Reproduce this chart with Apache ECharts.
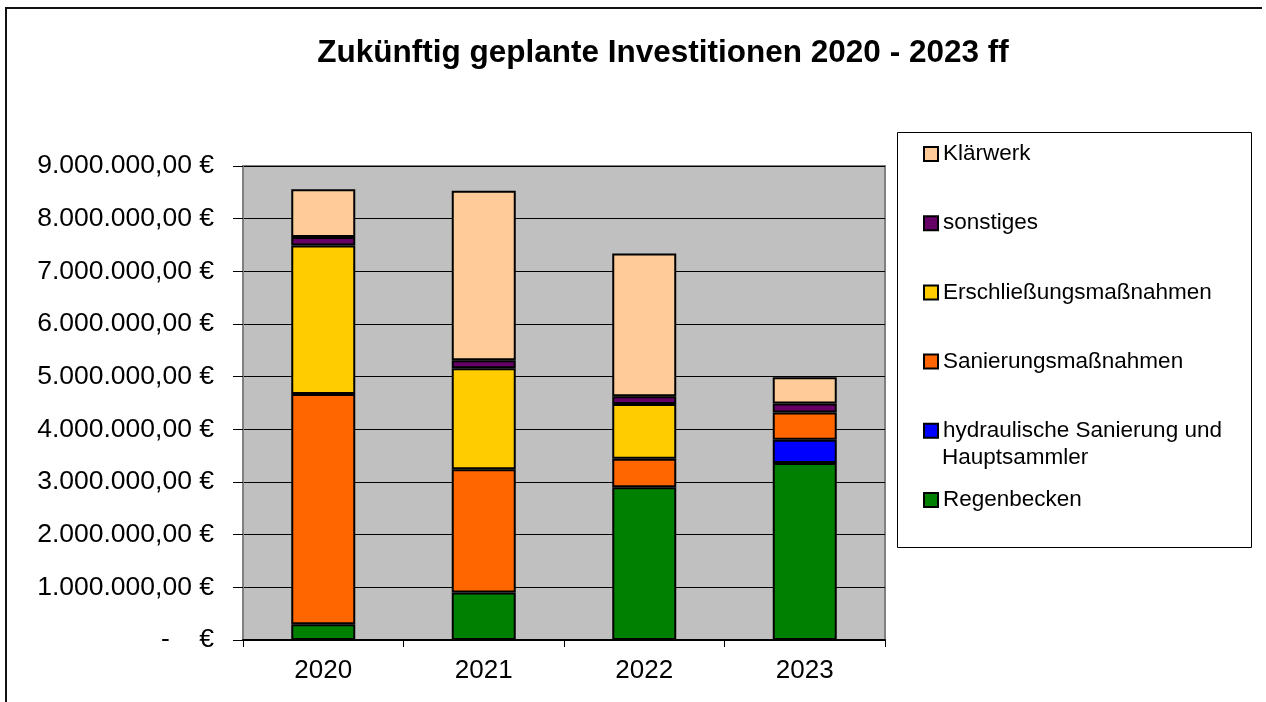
<!DOCTYPE html>
<html>
<head>
<meta charset="utf-8">
<script src="https://cdn.jsdelivr.net/npm/echarts@6/dist/echarts.min.js"></script>
<style>
html,body{margin:0;padding:0;background:#fff;}
#chart{width:1266px;height:702px;}
</style>
</head>
<body>
<div id="chart"></div>
<script>
const years = ['2020', '2021', '2022', '2023'];
const regenbecken   = [300000, 900000, 2900000, 3360000];
const hydraulisch   = [0, 0, 0, 440000];
const sanierung     = [4370000, 2340000, 540000, 520000];
const erschliessung = [2820000, 1920000, 1040000, 0];
const sonstiges     = [160000, 150000, 150000, 170000];
const klaerwerk     = [910000, 3220000, 2710000, 500000];

const seriesNames = ['Regenbecken', 'hydraulische Sanierung und Hauptsammler', 'Sanierungsmaßnahmen', 'Erschließungsmaßnahmen', 'sonstiges', 'Klärwerk'];
const seriesData = [regenbecken, hydraulisch, sanierung, erschliessung, sonstiges, klaerwerk];
const seriesColors = ['#008000', '#0000FF', '#FF6600', '#FFCC00', '#660066', '#FFCC99'];

const FONT = '"Liberation Sans", Arial, sans-serif';

function fmtEuro(v) {
  if (v === 0) return '-    €';
  const s = Math.round(v).toString();
  let out = '';
  for (let i = 0; i < s.length; i++) {
    if (i > 0 && (s.length - i) % 3 === 0) out += '.';
    out += s[i];
  }
  return out + ',00 €';
}

const chart = echarts.init(document.getElementById('chart'), null, {renderer: 'canvas'});

const option = {
  backgroundColor: '#ffffff',
  animation: false,
  title: {
    text: 'Zukünftig geplante Investitionen 2020 - 2023 ff',
    left: 663,
    top: 37,
    textAlign: 'center',
    padding: 0,
    textStyle: {fontFamily: FONT, fontWeight: 'bold', fontSize: 31.5, color: '#000'}
  },
  grid: {
    left: 243, right: 381, top: 166, bottom: 62,
    show: true, backgroundColor: '#C0C0C0', borderColor: '#808080', borderWidth: 2,
    containLabel: false
  },
  legend: {
    orient: 'vertical',
    left: 923,
    top: 142.5,
    padding: 0,
    itemWidth: 14,
    itemHeight: 14,
    itemGap: 46.2,
    icon: 'rect',
    data: seriesNames.slice().reverse(),
    formatter: function (n) { return n === 'hydraulische Sanierung und Hauptsammler' ? 'hydraulische Sanierung und' : n; },
    textStyle: {fontFamily: FONT, fontSize: 22.5, color: '#000', lineHeight: 22},
    itemStyle: {borderColor: '#000', borderWidth: 2}
  },
  xAxis: {
    type: 'category',
    data: years,
    axisLine: {show: true, lineStyle: {color: '#000', width: 2}},
    axisTick: {show: true, length: 7, lineStyle: {color: '#000', width: 1}},
    axisLabel: {fontFamily: FONT, fontSize: 26, color: '#000', margin: 18},
    splitLine: {show: false}
  },
  yAxis: {
    type: 'value',
    min: 0, max: 9000000, interval: 1000000,
    axisLine: {show: true, lineStyle: {color: '#808080', width: 2}},
    axisTick: {show: true, length: 10, lineStyle: {color: '#000', width: 1}},
    axisLabel: {fontFamily: FONT, fontSize: 26.5, color: '#000', margin: 29, formatter: fmtEuro},
    splitLine: {show: true, lineStyle: {color: '#000', width: 1}}
  },
  graphic: [
    {
      type: 'polyline', silent: true,
      shape: {points: [[6, 702], [6, 8], [1262, 8]]},
      style: {stroke: '#111', lineWidth: 2, fill: null}
    },
    {
      type: 'rect', silent: true, z: -1,
      shape: {x: 897.5, y: 132.5, width: 354, height: 415},
      style: {fill: '#fff', stroke: '#000', lineWidth: 1}
    },
    {
      type: 'text', silent: true,
      x: 942, y: 458,
      style: {text: 'Hauptsammler', fontFamily: FONT, fontSize: 22.5, fill: '#000', textVerticalAlign: 'middle', textAlign: 'left'}
    }
  ],
  series: seriesNames.map(function (name, i) {
    return {
      name: name,
      type: 'bar',
      stack: 'total',
      // zero entries are not drawn (no empty bordered segment)
      data: seriesData[i].map(function (v) { return v === 0 ? '-' : v; }),
      barWidth: 64,
      itemStyle: {color: seriesColors[i], borderColor: '#000', borderWidth: 2},
      emphasis: {disabled: true}
    };
  })
};
chart.setOption(option);
</script>
</body>
</html>
